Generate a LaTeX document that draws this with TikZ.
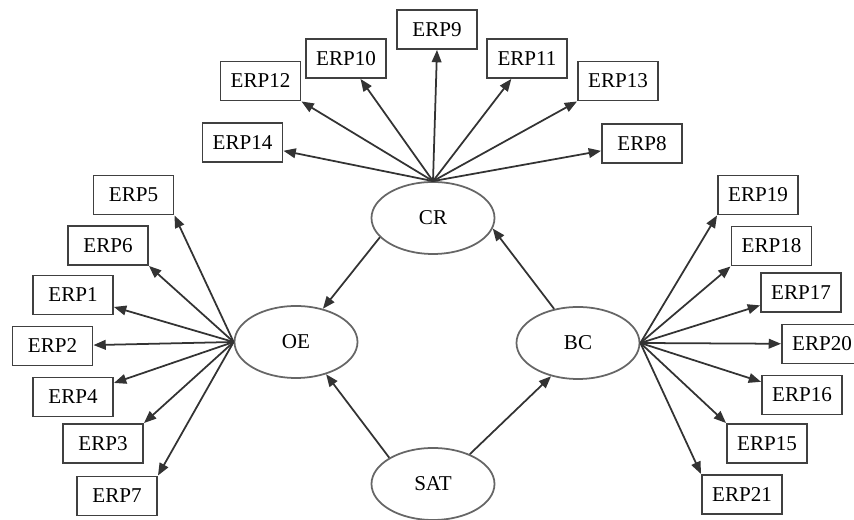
\documentclass[tikz,border=0pt]{standalone}
\usepackage{fontspec}
\setmainfont{Liberation Serif}
\usepackage{tikz}
\usetikzlibrary{arrows.meta, shapes.geometric}
\tikzset{
    pathdiagram/.style={>={Triangle[length=7pt, width=5.5pt]}, line width=1pt, font=\fontsize{12}{14}\selectfont},
    indicator/.style={draw=black!75, line width=1.1pt, minimum width=1.6cm, minimum height=0.78cm, inner sep=0pt},
    construct/.style={draw=black!60, ellipse, line width=1pt, minimum width=2.46cm, minimum height=1.44cm, inner sep=0pt},
    link/.style={->, draw=black!80},
}
\begin{document}
\begin{tikzpicture}[pathdiagram]
    \useasboundingbox (0,0) rectangle (17.08,10.4);

    % latent constructs
    \node[construct] (CR)  at (8.66,6.04) {CR};
    \node[construct] (OE)  at (5.92,3.56) {OE};
    \node[construct] (BC)  at (11.56,3.54) {BC};
    \node[construct] (SAT) at (8.66,0.72) {SAT};

    % indicators of CR
    \node[indicator] (ERP9)  at (8.74,9.81) {ERP9};
    \node[indicator] (ERP10) at (6.92,9.23) {ERP10};
    \node[indicator] (ERP11) at (10.54,9.23) {ERP11};
    \node[indicator] (ERP12) at (5.21,8.78) {ERP12};
    \node[indicator] (ERP13) at (12.36,8.78) {ERP13};
    \node[indicator] (ERP14) at (4.85,7.55) {ERP14};
    \node[indicator] (ERP8)  at (12.84,7.53) {ERP8};

    % indicators of OE
    \node[indicator] (ERP5) at (2.67,6.50) {ERP5};
    \node[indicator] (ERP6) at (2.16,5.49) {ERP6};
    \node[indicator] (ERP1) at (1.46,4.50) {ERP1};
    \node[indicator] (ERP2) at (1.05,3.48) {ERP2};
    \node[indicator] (ERP4) at (1.46,2.46) {ERP4};
    \node[indicator] (ERP3) at (2.06,1.53) {ERP3};
    \node[indicator] (ERP7) at (2.34,0.48) {ERP7};

    % indicators of BC
    \node[indicator] (ERP19) at (15.16,6.50) {ERP19};
    \node[indicator] (ERP18) at (15.43,5.48) {ERP18};
    \node[indicator] (ERP17) at (16.02,4.55) {ERP17};
    \node[indicator] (ERP20) at (16.44,3.52) {ERP20};
    \node[indicator] (ERP16) at (16.04,2.50) {ERP16};
    \node[indicator] (ERP15) at (15.34,1.53) {ERP15};
    \node[indicator] (ERP21) at (14.84,0.51) {ERP21};

    % structural paths
    \draw[link] (CR.200) -- (OE.51);
    \draw[link] (BC.125) -- (CR.350);
    \draw[link] (SAT.149) -- (OE.313);
    \draw[link] (SAT.39) -- (BC.231);

    % loadings
    \draw[link] (CR.north) -- (ERP14);
    \draw[link] (CR.north) -- (ERP12.south east);
    \draw[link] (CR.north) -- (ERP10);
    \draw[link] (CR.north) -- (ERP9.south);
    \draw[link] (CR.north) -- (ERP11);
    \draw[link] (CR.north) -- (ERP13.south west);
    \draw[link] (CR.north) -- (ERP8);

    \draw[link] (OE.west) -- (ERP5.south east);
    \draw[link] (OE.west) -- (ERP6.south east);
    \draw[link] (OE.west) -- (ERP1);
    \draw[link] (OE.west) -- (ERP2);
    \draw[link] (OE.west) -- (ERP4);
    \draw[link] (OE.west) -- (ERP3.north east);
    \draw[link] (OE.west) -- (ERP7.north east);

    \draw[link] (BC.east) -- (ERP19.south west);
    \draw[link] (BC.east) -- (ERP18.south west);
    \draw[link] (BC.east) -- (ERP17);
    \draw[link] (BC.east) -- (ERP20);
    \draw[link] (BC.east) -- (ERP16);
    \draw[link] (BC.east) -- (ERP15.north west);
    \draw[link] (BC.east) -- (ERP21.north west);
\end{tikzpicture}
\end{document}
